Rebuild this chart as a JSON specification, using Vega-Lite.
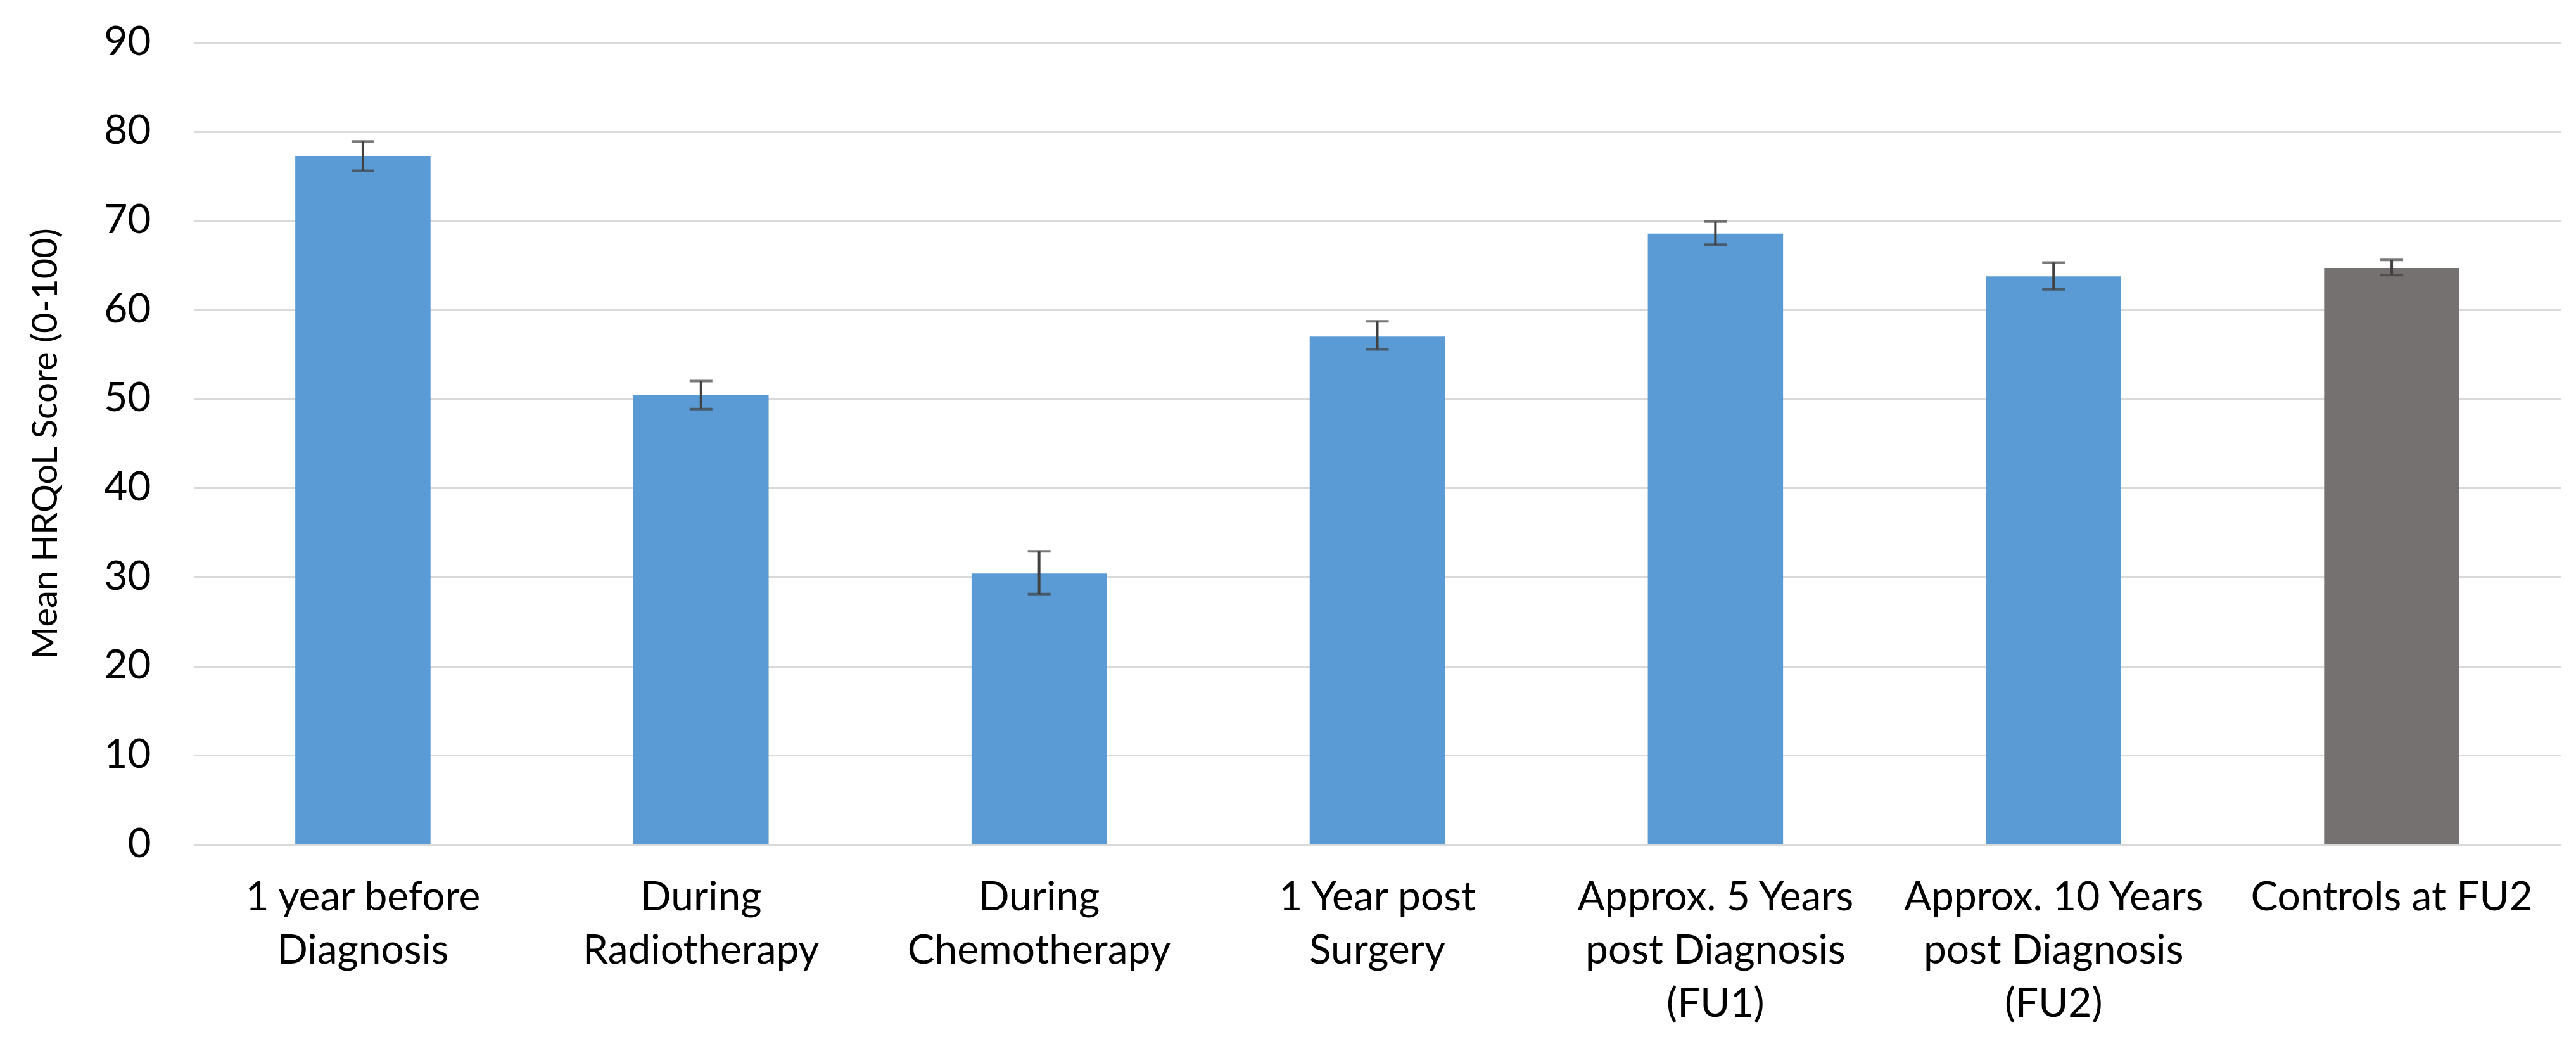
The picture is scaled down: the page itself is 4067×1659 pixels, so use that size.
{
  "$schema": "https://vega.github.io/schema/vega-lite/v6.json",
  "autosize": {"type": "none"},
  "width": 3737,
  "height": 1266,
  "padding": {"left": 306, "top": 67, "right": 24, "bottom": 326},
  "background": "white",
  "config": {
    "view": {"stroke": null},
    "font": "Lato",
    "axis": {"labelFont": "Lato", "titleFont": "Lato", "labelColor": "#000000", "titleColor": "#000000"}
  },
  "data": {
    "values": [
      {"label": "1 year before|Diagnosis", "mean": 77.25, "lo": 75.6, "hi": 78.9, "group": "patients"},
      {"label": "During|Radiotherapy", "mean": 50.4, "lo": 48.85, "hi": 52.0, "group": "patients"},
      {"label": "During|Chemotherapy", "mean": 30.4, "lo": 28.1, "hi": 32.9, "group": "patients"},
      {"label": "1 Year post|Surgery", "mean": 57.0, "lo": 55.55, "hi": 58.7, "group": "patients"},
      {"label": "Approx. 5 Years|post Diagnosis|(FU1)", "mean": 68.55, "lo": 67.3, "hi": 69.9, "group": "patients"},
      {"label": "Approx. 10 Years|post Diagnosis|(FU2)", "mean": 63.75, "lo": 62.3, "hi": 65.3, "group": "patients"},
      {"label": "Controls at FU2", "mean": 64.7, "lo": 63.9, "hi": 65.6, "group": "controls"}
    ]
  },
  "encoding": {
    "x": {
      "field": "label",
      "type": "nominal",
      "sort": null,
      "scale": {"paddingInner": 0.6, "paddingOuter": 0.3},
      "axis": {
        "title": null,
        "labelAngle": 0,
        "labelExpr": "split(datum.value, '|')",
        "labelFontSize": 64,
        "labelLineHeight": 84,
        "labelPadding": 52,
        "labelBaseline": "top",
        "ticks": false,
        "domain": false,
        "grid": false,
        "labelLimit": 0
      }
    }
  },
  "layer": [
    {
      "mark": {"type": "bar"},
      "encoding": {
        "y": {
          "field": "mean",
          "type": "quantitative",
          "scale": {"domain": [0, 90], "nice": false},
          "axis": {
            "title": "Mean HRQoL Score (0-100)",
            "titleFontSize": 56,
            "titleFontWeight": "normal",
            "titlePadding": 62,
            "values": [0, 10, 20, 30, 40, 50, 60, 70, 80, 90],
            "labelFontSize": 64,
            "labelPadding": 68,
            "ticks": false,
            "domain": false,
            "grid": true,
            "gridColor": "#D9D9D9",
            "gridWidth": 3
          }
        },
        "color": {
          "field": "group",
          "type": "nominal",
          "scale": {"domain": ["patients", "controls"], "range": ["#5B9BD5", "#767171"]},
          "legend": null
        }
      }
    },
    {
      "mark": {"type": "rule", "color": "#404040", "strokeWidth": 4},
      "encoding": {
        "y": {"field": "lo", "type": "quantitative"},
        "y2": {"field": "hi"}
      }
    },
    {
      "mark": {"type": "tick", "color": "#404040", "thickness": 4, "size": 36, "orient": "horizontal"},
      "encoding": {
        "y": {"field": "lo", "type": "quantitative"}
      }
    },
    {
      "mark": {"type": "tick", "color": "#404040", "thickness": 4, "size": 36, "orient": "horizontal"},
      "encoding": {
        "y": {"field": "hi", "type": "quantitative"}
      }
    }
  ]
}
